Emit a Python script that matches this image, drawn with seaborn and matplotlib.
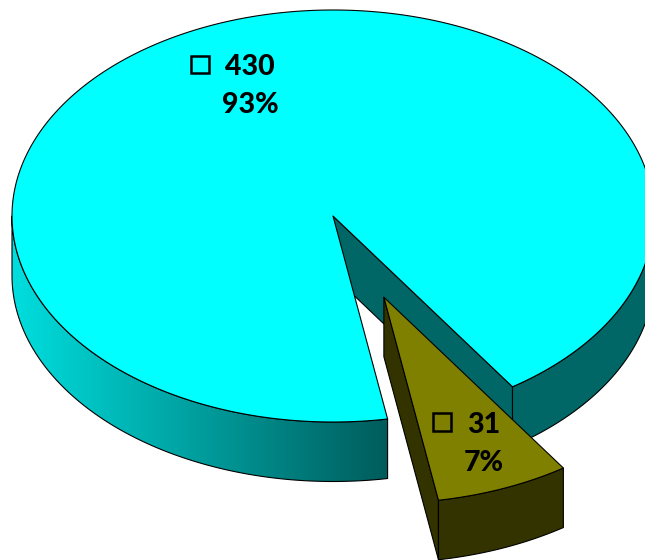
import numpy as np
import matplotlib
matplotlib.use("Agg")
import matplotlib.pyplot as plt
from matplotlib.patches import Polygon, Rectangle
import seaborn as sns

# Chart data
values = [430, 31]
percent_labels = ["93%", "7%"]

# Styles and geometry of the 3D projection
top_colors = ["#00FFFF", "#808000"]
wall_colors = ["#006666", "#333300"]
gradient_ends = ["#00DEDE", "#005C5C"]
center_x, center_y = 333, 216
radius_x, radius_y = 321, 206
depth = 59.5
start_angle = 56.0
explode = 0.425

sns.set_theme(style="white")
plt.rcParams["font.family"] = ["Lato", "DejaVu Sans"]

fig, ax = plt.subplots(figsize=(6.45, 5.6), dpi=100)
ax.set_position([0, 0, 1, 1])
ax.axis("off")

sweep_small = 360 * values[1] / sum(values)
a1 = start_angle
a2 = start_angle + sweep_small
mid = np.radians((a1 + a2) / 2)
dx = explode * radius_x * np.cos(mid)
dy = explode * radius_y * np.sin(mid)


def rim(deg0, deg1, ox=0.0, oy=0.0, n=200):
    t = np.radians(np.linspace(deg0, deg1, n))
    return np.column_stack([center_x + ox + radius_x * np.cos(t),
                            center_y + oy + radius_y * np.sin(t)])


def wall(pts):
    return np.vstack([pts, pts[::-1] + [0, depth]])


edge = dict(edgecolor="black", linewidth=0.8, joinstyle="round")

# Big slice: inner cut wall, visible only along the near-side cut
p1 = rim(a1, a1, n=1)[0]
ax.add_patch(Polygon([(center_x, center_y), p1, p1 + [0, depth],
                      (center_x, center_y + depth)],
                     facecolor=wall_colors[0], **edge))
# Right outer wall
ax.add_patch(Polygon(wall(rim(0, a1)), facecolor=wall_colors[0], **edge))

# Left outer wall with a smooth horizontal gradient
pts = rim(a2, 180, n=260)
ramp = np.array(sns.blend_palette(gradient_ends, n_colors=256))[:, :3]
y_low, y_high = pts[:, 1].min(), pts[:, 1].max() + depth
outline = Polygon(wall(pts), facecolor="none", **edge)
ax.add_patch(outline)
img = ax.imshow(ramp[np.newaxis, :, :], aspect="auto", interpolation="bilinear",
                extent=(pts[:, 0].min(), pts[:, 0].max(), y_high, y_low), zorder=0.9)
img.set_clip_path(outline)

# Big slice top
big = np.vstack([[(center_x, center_y)], rim(a2, a1 + 360, n=500)])
ax.add_patch(Polygon(big, facecolor=top_colors[0], **edge))

# Small exploded slice
apex = np.array([center_x + dx, center_y + dy])
arc = rim(a1, a2, dx, dy, n=60)
ax.add_patch(Polygon([apex, arc[-1], arc[-1] + [0, depth], apex + [0, depth]],
                     facecolor=wall_colors[1], **edge))
ax.add_patch(Polygon(wall(arc), facecolor=wall_colors[1], **edge))
ax.add_patch(Polygon(np.vstack([[apex], arc]), facecolor=top_colors[1], **edge))

# Labels with empty legend keys
label_pos = [(250, 67), (484, 425)]
pct_pos = [(250, 105), (484, 463)]
key_pos = [(191, 55.5), (433, 413)]
for v, pct, lp, pp, kp in zip(values, percent_labels, label_pos, pct_pos, key_pos):
    ax.text(*lp, str(v), ha="center", va="center", fontsize=20.5,
            fontweight=900, color="black")
    ax.text(*pp, pct, ha="center", va="center", fontsize=20.5,
            fontweight=900, color="black")
    ax.add_patch(Rectangle(kp, 18, 17.5, facecolor="none", edgecolor="black",
                           linewidth=1.8))

ax.set_xlim(0, 645)
ax.set_ylim(560, 0)

fig.savefig("out.png", dpi=100, facecolor="white")
